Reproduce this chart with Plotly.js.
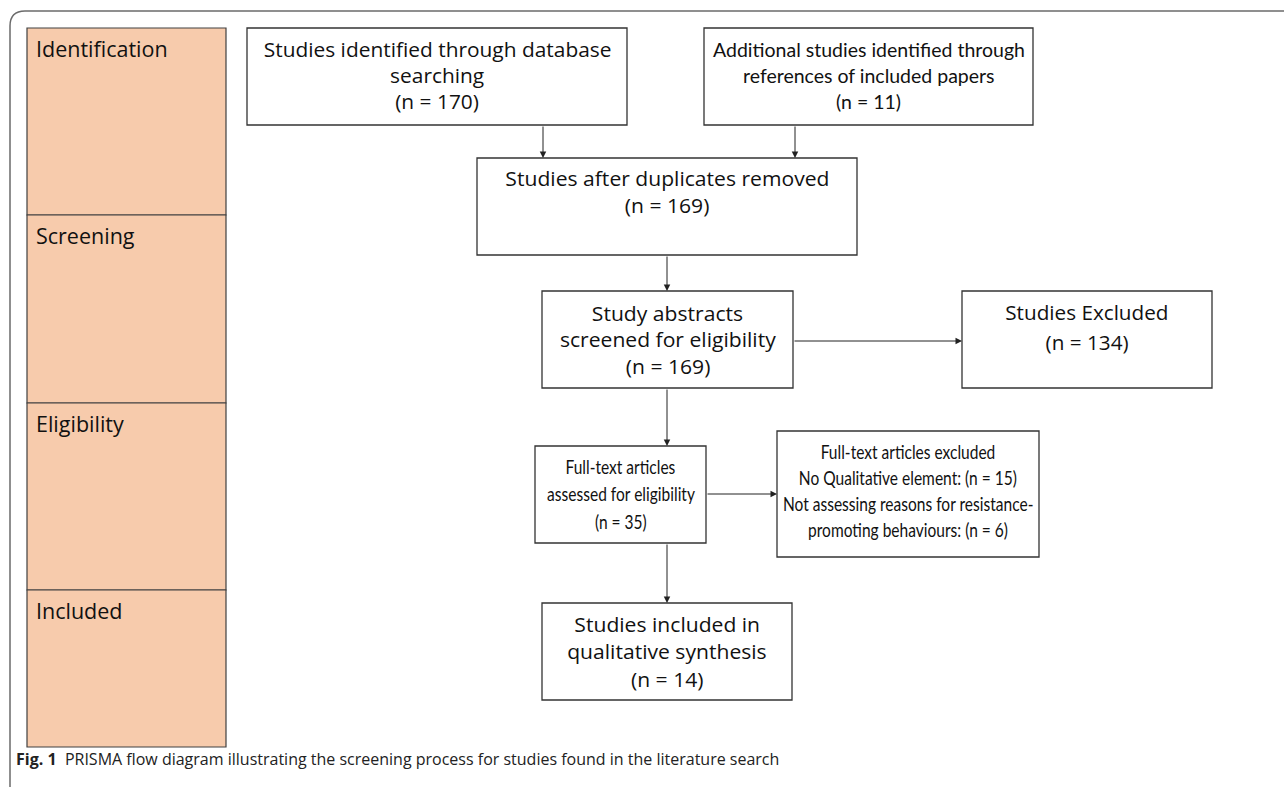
<!DOCTYPE html>
<html>
<head>
<meta charset="utf-8">
<script src="https://cdn.plot.ly/plotly-3.0.1.min.js"></script>
<style>html,body{margin:0;padding:0;background:#fff;}#chart{width:1284px;height:787px;}</style>
</head>
<body>
<div id="chart"></div>
<script>
// ---- data ----
var stageLabels = ["Identification", "Screening", "Eligibility", "Included"];
var boxTitles = [
  ["Studies identified through database", "searching"],
  ["Additional studies identified through", "references of included papers"],
  ["Studies after duplicates removed"],
  ["Study abstracts", "screened for eligibility"],
  ["Studies Excluded"],
  ["Full-text articles", "assessed for eligibility"],
  ["Full-text articles excluded", "No Qualitative element: (n = 15)", "Not assessing reasons for resistance-", "promoting behaviours: (n = 6)"],
  ["Studies included in", "qualitative synthesis"]
];
var boxCounts = [170, 11, 169, 169, 134, 35, null, 14];
var captionBold = "Fig. 1";
var captionText = "PRISMA flow diagram illustrating the screening process for studies found in the literature search";

// ---- layout geometry & styles ----
var WIDE = {family:"'Open Sans', 'Noto Sans', sans-serif", size:20.5, color:"#111"};
var MID = {family:"Lato, 'Open Sans', sans-serif", size:19.5, color:"#111"};
var NARROW = {family:"Lato, 'Open Sans', sans-serif", size:18.5, color:"#111"};
var boxGeom = [
  {x0:247, x1:627, y0:28,  y1:125, ty:75,  gap:26,   font:WIDE, sx:1.02},
  {x0:704, x1:1033, y0:28, y1:125, ty:75,  gap:26,   font:MID, sx:1},
  {x0:477, x1:857, y0:158, y1:255, ty:191.5, gap:27, font:WIDE, sx:1.03},
  {x0:542, x1:793, y0:291, y1:388, ty:339, gap:26.5, font:WIDE, sx:1.03},
  {x0:962, x1:1212, y0:291, y1:388, ty:327, gap:30,  font:WIDE, sx:1.01},
  {x0:535, x1:706, y0:446, y1:543, ty:494, gap:27.5, font:NARROW, sx:0.84},
  {x0:777, x1:1039, y0:431, y1:557, ty:491, gap:25.7, font:NARROW, sx:0.84},
  {x0:542, x1:792, y0:603, y1:700, ty:651, gap:27.5, font:WIDE, sx:1.03}
];
var stageGeom = [{y0:28, y1:215}, {y0:215, y1:403}, {y0:403, y1:590}, {y0:590, y1:747}];
var arrows = [
  {from:[543,125], to:[543,158]},
  {from:[795,125], to:[795,158]},
  {from:[667,255], to:[667,291]},
  {from:[793,341], to:[962,341]},
  {from:[667,388], to:[667,446]},
  {from:[706,494], to:[777,494]},
  {from:[667,543], to:[667,603]}
];

var shapes = [];
var annotations = [];
var stretch = {};

// outer frame (top + left edges, rounded corner)
shapes.push({type:"path", xref:"x", yref:"y",
  path:"M 10 787 L 10 26 Q 10 11 25 11 L 1284 11",
  line:{color:"#6b6b6b", width:1.5}});

// sidebar
stageGeom.forEach(function(g, i){
  shapes.push({type:"rect", xref:"x", yref:"y", x0:27, x1:226, y0:g.y0, y1:g.y1,
    fillcolor:"#f7cbac", line:{color:"#404040", width:1.2}, layer:"below"});
  annotations.push({xref:"x", yref:"y", x:34, y:g.y0+20, text:stageLabels[i], showarrow:false,
    xanchor:"left", yanchor:"middle", font:{family:"'Open Sans', sans-serif", size:21.5, color:"#111"}});
});

// boxes
boxGeom.forEach(function(g, i){
  shapes.push({type:"rect", xref:"x", yref:"y", x0:g.x0, x1:g.x1, y0:g.y0, y1:g.y1,
    fillcolor:"#ffffff", line:{color:"#333333", width:1.3}});
  var lines = boxTitles[i].slice();
  if (boxCounts[i] !== null) lines.push("(n = " + boxCounts[i] + ")");
  var n = lines.length;
  lines.forEach(function(s, k){
    if (g.sx !== 1) stretch[annotations.length] = g.sx;
    annotations.push({xref:"x", yref:"y", x:(g.x0+g.x1)/2, y:g.ty + (k - (n-1)/2)*g.gap, text:s, showarrow:false,
      xanchor:"center", yanchor:"middle", align:"center", font:g.font});
  });
});

// arrows
arrows.forEach(function(a){
  annotations.push({xref:"x", yref:"y", axref:"x", ayref:"y", x:a.to[0], y:a.to[1], ax:a.from[0], ay:a.from[1],
    text:"", showarrow:true, arrowhead:2, arrowsize:1.3, arrowwidth:1, arrowcolor:"#222", standoff:0});
});

// caption
annotations.push({xref:"x", yref:"y", x:14, y:759, showarrow:false, xanchor:"left", yanchor:"middle",
  text:"<b>" + captionBold + "</b>&nbsp;&nbsp;" + captionText,
  font:{family:"'Open Sans', 'Noto Sans', sans-serif", size:16, color:"#222"}});

var layout = {
  width:1284, height:787,
  margin:{l:0, r:0, t:0, b:0},
  paper_bgcolor:"#ffffff", plot_bgcolor:"#ffffff",
  xaxis:{range:[0,1284], visible:false, fixedrange:true},
  yaxis:{range:[787,0], visible:false, fixedrange:true},
  shapes:shapes, annotations:annotations, showlegend:false
};
Plotly.newPlot("chart", [{x:[], y:[], type:"scatter", mode:"markers", hoverinfo:"skip"}], layout, {staticPlot:true, displayModeBar:false})
.then(function(gd){
  var nodes = gd.querySelectorAll("g.annotation");
  nodes.forEach(function(node){
    var idx = +node.getAttribute("data-index");
    if (stretch[idx] !== undefined) {
      var t = node.querySelector("text.annotation-text");
      if (t) {
        t.style.transformBox = "fill-box";
        t.style.transformOrigin = "center";
        t.style.transform = "scaleX(" + stretch[idx] + ")";
      }
    }
  });
});
</script>
</body>
</html>
